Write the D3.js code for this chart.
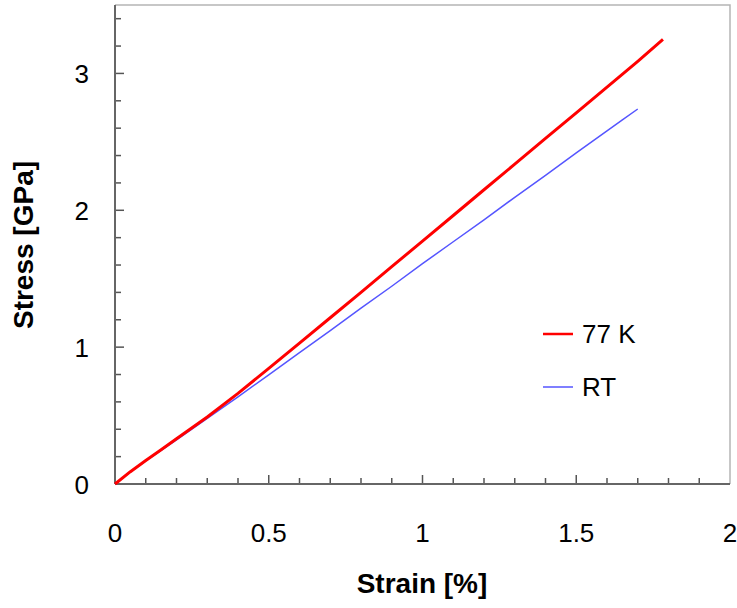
<!DOCTYPE html>
<html>
<head>
<meta charset="utf-8">
<script src="https://cdn.jsdelivr.net/npm/d3@7"></script>
<style>
  body { margin: 0; background: #fff; }
  svg { display: block; font-family: "Liberation Sans", Arial, sans-serif; }
</style>
</head>
<body>
<svg class="chart"></svg>
<script>
const width = 737;
const height = 608;

// 77 K curve
const strain77 = [0, 0.05, 0.1, 0.15, 0.2, 0.3, 0.4, 0.5, 0.6, 0.7, 0.8, 0.9, 1.0, 1.1, 1.2, 1.3, 1.4, 1.5, 1.6, 1.7, 1.782];
const stress77 = [0, 0.09, 0.172, 0.25, 0.33, 0.49, 0.662, 0.845, 1.03, 1.215, 1.40, 1.588, 1.775, 1.962, 2.15, 2.337, 2.525, 2.712, 2.90, 3.088, 3.248];
// room temperature curve
const strainRT = [0, 0.05, 0.1, 0.15, 0.2, 0.3, 0.4, 0.5, 0.6, 0.7, 0.8, 0.9, 1.0, 1.1, 1.2, 1.3, 1.4, 1.5, 1.6, 1.65, 1.70];
const stressRT = [0, 0.088, 0.168, 0.245, 0.322, 0.48, 0.637, 0.798, 0.96, 1.12, 1.285, 1.445, 1.61, 1.77, 1.93, 2.095, 2.255, 2.42, 2.58, 2.66, 2.74];

const xTicks = [0, 0.5, 1, 1.5, 2];
const yTicks = [0, 1, 2, 3];
const seriesNames = ["77 K", "RT"];

const margin = { left: 115, right: 7, top: 5, bottom: 124 };
const svg = d3.select('.chart').attr('width', width).attr('height', height);

const x = d3.scaleLinear().domain([0, 2]).range([margin.left, width - margin.right]);
const y = d3.scaleLinear().domain([0, 3.5]).range([height - margin.bottom, margin.top]);

// frame top / right
svg.append('path')
  .attr('d', `M${x(0)},${y(3.5)}H${x(2)}V${y(0)}`)
  .attr('fill', 'none')
  .attr('stroke', '#b5b5b5')
  .attr('stroke-width', 1.5);

// minor + major ticks (inward)
const xMinor = d3.range(1, 20).map(i => i / 10);
const yMinor = d3.range(1, 18).map(i => i / 5);
const isMajorX = v => Math.abs(v * 2 - Math.round(v * 2)) < 1e-6;
const isMajorY = v => Math.abs(v - Math.round(v)) < 1e-6;

svg.append('g').selectAll('line')
  .data(xMinor)
  .enter().append('line')
  .attr('x1', d => x(d)).attr('x2', d => x(d))
  .attr('y1', y(0)).attr('y2', d => y(0) - (isMajorX(d) ? 9 : 6))
  .attr('stroke', '#555').attr('stroke-width', 1.5);

svg.append('g').selectAll('line')
  .data(yMinor)
  .enter().append('line')
  .attr('y1', d => y(d)).attr('y2', d => y(d))
  .attr('x1', x(0)).attr('x2', d => x(0) + (isMajorY(d) ? 9 : 6))
  .attr('stroke', '#555').attr('stroke-width', 1.5);

// axis lines
svg.append('line')
  .attr('x1', x(0)).attr('x2', x(0)).attr('y1', y(0)).attr('y2', y(3.5))
  .attr('stroke', '#666').attr('stroke-width', 2);
svg.append('line')
  .attr('x1', x(0)).attr('x2', x(2)).attr('y1', y(0)).attr('y2', y(0))
  .attr('stroke', '#666').attr('stroke-width', 2);

// tick labels
svg.append('g').selectAll('text')
  .data(xTicks)
  .enter().append('text')
  .attr('x', d => x(d)).attr('y', 542)
  .attr('text-anchor', 'middle')
  .style('font-size', '26px')
  .text(d => d);

svg.append('g').selectAll('text')
  .data(yTicks)
  .enter().append('text')
  .attr('x', 89).attr('y', d => y(d) + 9.5)
  .attr('text-anchor', 'end')
  .style('font-size', '26px')
  .text(d => d);

// axis titles
svg.append('text')
  .attr('x', 422).attr('y', 593)
  .attr('text-anchor', 'middle')
  .style('font-size', '28px').style('font-weight', 'bold')
  .text('Strain [%]');

svg.append('text')
  .attr('transform', 'translate(33,245) rotate(-90)')
  .attr('text-anchor', 'middle')
  .style('font-size', '28px').style('font-weight', 'bold')
  .text('Stress [GPa]');

// curves
const line = d3.line().x(d => x(d[0])).y(d => y(d[1]));
const dataRT = strainRT.map((s, i) => [s, stressRT[i]]);
const data77 = strain77.map((s, i) => [s, stress77[i]]);

svg.append('path')
  .datum(dataRT)
  .attr('d', line)
  .attr('fill', 'none')
  .attr('stroke', '#5555ff')
  .attr('stroke-width', 1.5);

svg.append('path')
  .datum(data77)
  .attr('d', line)
  .attr('fill', 'none')
  .attr('stroke', '#ff0000')
  .attr('stroke-width', 3)
  .attr('stroke-linejoin', 'round');

// legend
const legend = svg.append('g');
const legendColors = ['#ff0000', '#5555ff'];
const legendWidths = [2.5, 1.5];
const legendY = [334, 387];
seriesNames.forEach((name, i) => {
  legend.append('line')
    .attr('x1', 543).attr('x2', 573)
    .attr('y1', legendY[i]).attr('y2', legendY[i])
    .attr('stroke', legendColors[i]).attr('stroke-width', legendWidths[i]);
  legend.append('text')
    .attr('x', 582).attr('y', legendY[i] + 9)
    .style('font-size', '26px')
    .text(name);
});
</script>
</body>
</html>
